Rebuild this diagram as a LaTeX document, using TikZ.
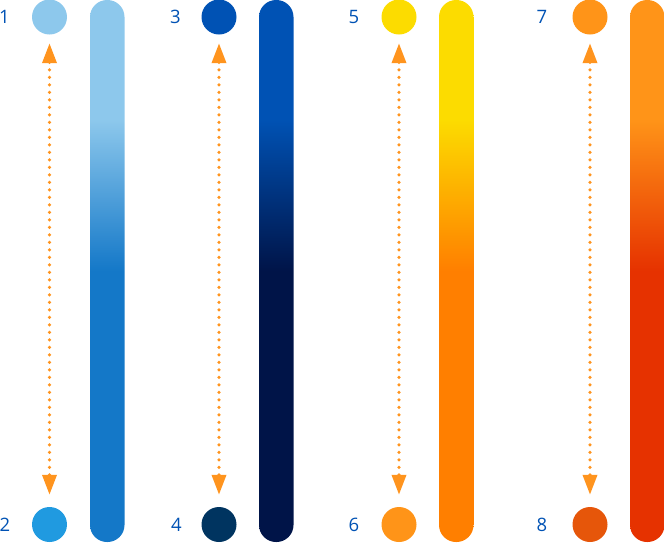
\documentclass[tikz,border=0pt]{standalone}
\usepackage{xcolor}
\usepackage{fontspec}
\setmainfont{Open Sans}
\usepackage{tikz}
\usetikzlibrary{arrows.meta, positioning}
\definecolor{mysky}{RGB}{141,200,236}
\definecolor{mysea}{RGB}{20,120,200}
\definecolor{mybright}{RGB}{32,154,224}
\definecolor{myblue}{RGB}{0,82,180}
\definecolor{mynavy}{RGB}{0,20,72}
\definecolor{mypetrol}{RGB}{0,52,96}
\definecolor{myyellow}{RGB}{252,220,0}
\definecolor{myorange}{RGB}{255,127,0}
\definecolor{mytangerine}{RGB}{255,148,24}
\definecolor{myred}{RGB}{230,50,0}
\definecolor{myrust}{RGB}{230,86,10}
\definecolor{myarrow}{RGB}{255,148,30}
\pgfdeclareverticalshading{skybar}{100bp}{color(0bp)=(mysea); color(50bp)=(mysea); color(64bp)=(mysky); color(100bp)=(mysky)}
\pgfdeclareverticalshading{navybar}{100bp}{color(0bp)=(mynavy); color(50bp)=(mynavy); color(64bp)=(myblue); color(100bp)=(myblue)}
\pgfdeclareverticalshading{sunbar}{100bp}{color(0bp)=(myorange); color(50bp)=(myorange); color(64bp)=(myyellow); color(100bp)=(myyellow)}
\pgfdeclareverticalshading{firebar}{100bp}{color(0bp)=(myred); color(50bp)=(myred); color(64bp)=(mytangerine); color(100bp)=(mytangerine)}
\tikzset{
  swatch/.style={circle, minimum size=35pt, inner sep=0pt},
  num/.style={text=myblue, font=\fontsize{18.5}{18.5}\selectfont, inner sep=0pt},
  bar/.style={rounded corners=17pt},
  dotarrow/.style={{Triangle[length=20pt, width=14pt]}-{Triangle[length=20pt, width=14pt]},
    color=myarrow, line width=3.6pt, line cap=round, dash pattern=on 0pt off 7.5pt,
    shorten <=8.5pt, shorten >=12pt}
}

\begin{document}
\begin{tikzpicture}[x=1pt, y=-1pt]
  \useasboundingbox (0,0) rectangle (665,542);

  % Column 1 (light blue)
  \node[num] (n1) at (4.5,17) {1};
  \node[num] (n2) at (5,524.5) {2};
  \node[swatch, fill=mysky] (c1) at (49.5,17) {};
  \node[swatch, fill=mybright] (c2) at (49.5,524.5) {};
  \draw[dotarrow] (c1) -- (c2);
  \shade[bar, shading=skybar] (90,0) rectangle (124.5,542);

  % Column 2 (dark blue)
  \node[num] (n3) at (175.5,17) {3};
  \node[num] (n4) at (176.5,524.5) {4};
  \node[swatch, fill=myblue] (c3) at (219,17) {};
  \node[swatch, fill=mypetrol] (c4) at (219,524.5) {};
  \draw[dotarrow] (c3) -- (c4);
  \shade[bar, shading=navybar] (259,0) rectangle (293.5,542);

  % Column 3 (yellow to orange)
  \node[num] (n5) at (354,17) {5};
  \node[num] (n6) at (354,524.5) {6};
  \node[swatch, fill=myyellow] (c5) at (399,17) {};
  \node[swatch, fill=mytangerine] (c6) at (399,524.5) {};
  \draw[dotarrow] (c5) -- (c6);
  \shade[bar, shading=sunbar] (439,0) rectangle (473.5,542);

  % Column 4 (orange to red)
  \node[num] (n7) at (542,17) {7};
  \node[num] (n8) at (542,524.5) {8};
  \node[swatch, fill=mytangerine] (c7) at (590,17) {};
  \node[swatch, fill=myrust] (c8) at (590,524.5) {};
  \draw[dotarrow] (c7) -- (c8);
  \shade[bar, shading=firebar] (630,0) rectangle (664.5,542);
\end{tikzpicture}
\end{document}
